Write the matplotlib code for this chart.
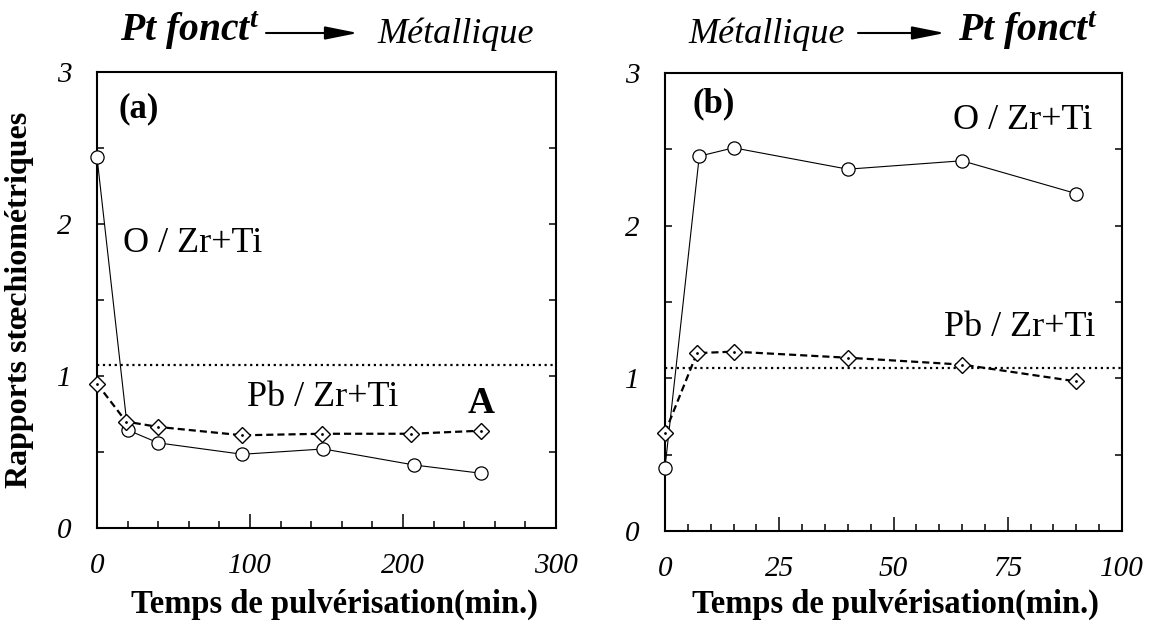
import matplotlib
matplotlib.use("Agg")
import matplotlib.pyplot as plt
from matplotlib.patches import FancyArrowPatch, ArrowStyle
from matplotlib.ticker import MultipleLocator

plt.rcParams['font.family'] = ['Liberation Serif', 'DejaVu Serif']
plt.rcParams['mathtext.fontset'] = 'custom'
plt.rcParams['mathtext.it'] = 'Liberation Serif:italic:bold'

W, H = 1153, 622

# panel (a): from Pt to metallic side
time_a = [0, 20, 40, 95, 148, 207, 251]
o_a = [2.44, 0.645, 0.56, 0.485, 0.52, 0.415, 0.36]
time_pb_a = [0, 19, 40, 95, 147, 205, 251]
pb_a = [0.95, 0.70, 0.665, 0.61, 0.62, 0.62, 0.64]

# panel (b): from metallic to Pt side
time_b = [0, 7.5, 15, 40, 65, 90]
o_b = [0.415, 2.455, 2.51, 2.37, 2.425, 2.21]
time_pb_b = [0, 7, 15, 40, 65, 90]
pb_b = [0.645, 1.165, 1.175, 1.135, 1.09, 0.98]

stoich_ref = 1.07

xlim_a = (0, 300)
xlim_b = (0, 100)
xticks_a = [0, 100, 200, 300]
xticks_b = [0, 25, 50, 75, 100]
yticks = [0, 1, 2, 3]


def px(x, y):
    return x / W, 1 - y / H


fig = plt.figure(figsize=(W / 100, H / 100), dpi=100)
ax_a = fig.add_axes([97 / W, 1 - 528 / H, (556 - 97) / W, (528 - 72) / H])
ax_b = fig.add_axes([665 / W, 1 - 531 / H, (1122 - 665) / W, (531 - 73) / H])


def style_axes(ax, xlim, xticks, xminor):
    ax.set_xlim(*xlim)
    ax.set_ylim(0, 3)
    ax.set_xticks(xticks)
    ax.xaxis.set_minor_locator(MultipleLocator(xminor))
    ax.set_yticks(yticks)
    ax.yaxis.set_minor_locator(MultipleLocator(0.5))
    for s in ax.spines.values():
        s.set_linewidth(1.5)
    ax.tick_params(axis='both', which='both', direction='in', width=1.1,
                   top=False, right=True, labelsize=21)
    ax.tick_params(axis='x', which='major', length=10, pad=18)
    ax.tick_params(axis='x', which='minor', length=5)
    ax.tick_params(axis='y', which='both', length=5, pad=18)
    for lab in ax.get_xticklabels() + ax.get_yticklabels():
        lab.set_fontstyle('italic')
    ax.axhline(stoich_ref, color='k', ls=':', lw=1.6, zorder=1)


def plot_series(ax, t_o, o, t_pb, pb):
    ax.plot(t_o, o, color='k', lw=0.8, marker='o', ms=9.5, mfc='white',
            mec='k', mew=0.9, zorder=3, clip_on=False)
    ax.plot(t_pb, pb, color='k', lw=1.6, ls=(0, (3.2, 1.8)), marker='D', ms=8,
            mfc='white', mec='k', mew=1.0, zorder=4, clip_on=False)
    ax.plot(t_pb, pb, ls='none', marker='.', ms=2, color='k', zorder=5,
            clip_on=False)


style_axes(ax_a, xlim_a, xticks_a, 20)
style_axes(ax_b, xlim_b, xticks_b, 5)
plot_series(ax_a, time_a, o_a, time_pb_a, pb_a)
plot_series(ax_b, time_b, o_b, time_pb_b, pb_b)

# in-plot labels
ax_a.text(27, 2.76, '(a)', fontsize=25, fontweight='bold', ha='center', va='center')
ax_a.text(17, 1.87, 'O / Zr+Ti', fontsize=26, ha='left', va='center')
ax_a.text(98, 0.86, 'Pb / Zr+Ti', fontsize=26, ha='left', va='center')
ax_a.text(251, 0.82, 'A', fontsize=27, fontweight='bold', ha='center', va='center')

ax_b.text(10.7, 2.80, '(b)', fontsize=25, fontweight='bold', ha='center', va='center')
ax_b.text(63, 2.69, 'O / Zr+Ti', fontsize=26, ha='left', va='center')
ax_b.text(61, 1.33, 'Pb / Zr+Ti', fontsize=26, ha='left', va='center')

# axis labels
fig.text(*px(20, 300), 'Rapports stœchiométriques', fontsize=23, fontweight='bold',
         rotation=90, ha='center', va='center')
fig.text(*px(334, 613), 'Temps de pulvérisation(min.)', fontsize=23.5,
         fontweight='bold', ha='center', va='baseline')
fig.text(*px(895, 613), 'Temps de pulvérisation(min.)', fontsize=23.5,
         fontweight='bold', ha='center', va='baseline')

# headers above the panels
head_pt = r'Pt fonct$^{t}$'
fig.text(*px(260, 41), head_pt, fontsize=28.5, fontweight='bold', style='italic',
         ha='right', va='baseline')
fig.text(*px(377, 43), 'Métallique', fontsize=26, style='italic',
         ha='left', va='baseline')
fig.text(*px(845, 43), 'Métallique', fontsize=26, style='italic',
         ha='right', va='baseline')
fig.text(*px(958, 41), head_pt, fontsize=28.5, fontweight='bold', style='italic',
         ha='left', va='baseline')

arrow_style = ArrowStyle('-|>', head_length=1.0, head_width=0.2)
for x0, x1 in [(266, 358), (858, 945)]:
    fig.add_artist(FancyArrowPatch(px(x0, 33), px(x1, 33), transform=fig.transFigure,
                                   arrowstyle=arrow_style, mutation_scale=20,
                                   lw=1.5, color='k', shrinkA=0, shrinkB=0))

fig.savefig('out.png', dpi=100)
